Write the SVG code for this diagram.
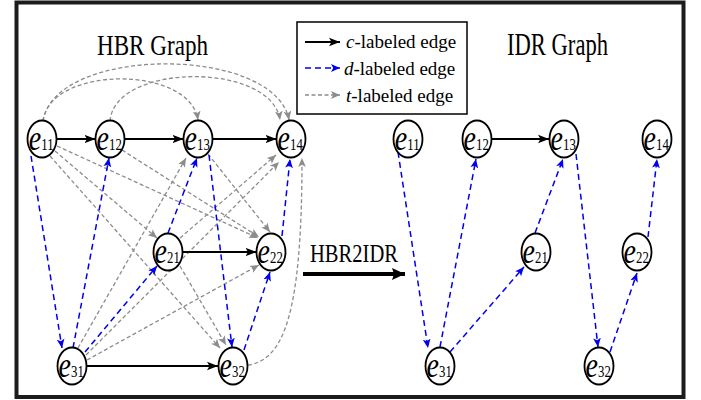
<svg xmlns="http://www.w3.org/2000/svg" width="701" height="400" viewBox="0 0 701 400">
  <defs>
    <marker id="ah-c" markerUnits="userSpaceOnUse" markerWidth="12" markerHeight="10" refX="11" refY="5" orient="auto">
      <path d="M0,0.8 L11,5 L0,9.2 L2.5,5 Z" fill="#000"/>
    </marker>
    <marker id="ah-d" markerUnits="userSpaceOnUse" markerWidth="10" markerHeight="9" refX="9" refY="4.5" orient="auto">
      <path d="M0,0.6 L9,4.5 L0,8.4 L2.2,4.5 Z" fill="#0000ee"/>
    </marker>
    <marker id="ah-t" markerUnits="userSpaceOnUse" markerWidth="10" markerHeight="9" refX="9" refY="4.5" orient="auto">
      <path d="M0,0.6 L9,4.5 L0,8.4 L2.2,4.5 Z" fill="#8c8c8c"/>
    </marker>
    <marker id="ah-big" markerUnits="userSpaceOnUse" markerWidth="14" markerHeight="14" refX="13" refY="7" orient="auto">
      <path d="M0,1 L13,7 L0,13 L2,7 Z" fill="#000"/>
    </marker>
  </defs>
  <style>
    .frame { fill: #fff; stroke: #1c1c1c; stroke-width: 4; }
    .node ellipse { fill: #fff; stroke: #000; stroke-width: 1.8; }
    .lbl { font-family: "Liberation Serif", "Times New Roman", serif; fill: #000; text-anchor: middle; }
    .lbl .e { font-style: italic; font-size: 35px; }
    .lbl .s { font-size: 16px; }
    .c { fill: none; stroke: #000; stroke-width: 1.8; marker-end: url(#ah-c); }
    .d { fill: none; stroke: #0000ee; stroke-width: 1.5; stroke-dasharray: 6 4; marker-end: url(#ah-d); }
    .t { fill: none; stroke: #8c8c8c; stroke-width: 1.3; stroke-dasharray: 4 2.5; marker-end: url(#ah-t); }
    .title { font-family: "Liberation Serif", "Times New Roman", serif; fill: #000; }
    .leg { font-family: "Liberation Serif", "Times New Roman", serif; font-size: 19px; fill: #000; }
    .leg .i { font-style: italic; }
  </style>

  <rect class="frame" x="16.5" y="2.5" width="667" height="394.5"/>

  <!-- titles -->
  <text class="title" x="97" y="55" font-size="30" textLength="111" lengthAdjust="spacingAndGlyphs">HBR Graph</text>
  <text class="title" x="507" y="55" font-size="31" textLength="101" lengthAdjust="spacingAndGlyphs">IDR Graph</text>

  <!-- legend -->
  <g id="legend">
    <rect x="297" y="22" width="170" height="92" fill="#fff" stroke="#000" stroke-width="1.5"/>
    <line class="c" x1="305" y1="42" x2="340" y2="42" stroke-dasharray="none"/>
    <line class="d" x1="305" y1="68" x2="340" y2="68"/>
    <line class="t" x1="305" y1="95" x2="340" y2="95"/>
    <text class="leg" x="346" y="48"><tspan class="i">c</tspan>-labeled edge</text>
    <text class="leg" x="344" y="75"><tspan class="i">d</tspan>-labeled edge</text>
    <text class="leg" x="346" y="102"><tspan class="i">t</tspan>-labeled edge</text>
  </g>

  <!-- transformation arrow -->
  <g id="hbr2idr">
    <text class="title" x="310" y="262" font-size="25" textLength="88" lengthAdjust="spacingAndGlyphs">HBR2IDR</text>
    <line x1="303" y1="274" x2="405" y2="274" stroke="#000" stroke-width="4" marker-end="url(#ah-big)"/>
  </g>

  <!-- connectors -->
  <g id="connectors">
    <!-- HBR: t-labeled edges -->
    <path class="t" d="M43,121 C55,45 275,45 289,120"/>
    <path class="t" d="M43,121 C50,65 190,65 198,120"/>
    <path class="t" d="M110,121 C115,62 272,62 280,120"/>
    <path class="t" d="M248,365 C285,360 302,310 302,158"/>
    <line class="t" x1="55" y1="151" x2="157" y2="238"/>
    <line class="t" x1="57" y1="146" x2="258" y2="238"/>
    <line class="t" x1="122" y1="150" x2="259" y2="237"/>
    <line class="t" x1="208" y1="154" x2="270" y2="232"/>
    <line class="t" x1="50" y1="156" x2="220" y2="348"/>
    <line class="t" x1="180" y1="266" x2="226" y2="345"/>
    <line class="t" x1="180" y1="238" x2="276" y2="155"/>
    <line class="t" x1="78" y1="348" x2="186" y2="158"/>
    <line class="t" x1="86" y1="355" x2="279" y2="162"/>
    <line class="t" x1="87" y1="360" x2="259" y2="265"/>
    <!-- HBR: d-labeled edges -->
    <line class="d" x1="31" y1="156" x2="62" y2="348"/>
    <line class="d" x1="73" y1="348" x2="109" y2="158"/>
    <line class="d" x1="85" y1="352" x2="157" y2="266"/>
    <line class="d" x1="168" y1="233" x2="197" y2="158"/>
    <line class="d" x1="209" y1="155" x2="232" y2="347"/>
    <line class="d" x1="244" y1="350" x2="270" y2="272"/>
    <line class="d" x1="282" y1="236" x2="290" y2="159"/>
    <!-- HBR: c-labeled edges -->
    <line class="c" x1="57" y1="139" x2="95.5" y2="139"/>
    <line class="c" x1="124.5" y1="139" x2="183.5" y2="139"/>
    <line class="c" x1="212.5" y1="139" x2="276.5" y2="139"/>
    <line class="c" x1="183" y1="252" x2="256.5" y2="252"/>
    <line class="c" x1="87" y1="366" x2="218" y2="366"/>
    <!-- IDR edges -->
    <line class="c" x1="492" y1="139" x2="549" y2="139"/>
    <line class="d" x1="398" y1="152" x2="428" y2="348"/>
    <line class="d" x1="440" y1="347" x2="476" y2="159"/>
    <line class="d" x1="450" y1="352" x2="524" y2="267"/>
    <line class="d" x1="535" y1="233" x2="563" y2="159"/>
    <line class="d" x1="576" y1="154" x2="598" y2="347"/>
    <line class="d" x1="610" y1="352" x2="637" y2="273"/>
    <line class="d" x1="648" y1="237" x2="657" y2="159"/>
  </g>

  <!-- HBR graph nodes -->
  <g id="hbr-e11" class="node" transform="translate(42,139)"><ellipse rx="14.5" ry="18.5"/><text class="lbl" transform="scale(0.8,1)" x="-1" y="11"><tspan class="e">e</tspan><tspan class="s">11</tspan></text></g>
  <g id="hbr-e12" class="node" transform="translate(110,139)"><ellipse rx="14.5" ry="18.5"/><text class="lbl" transform="scale(0.8,1)" x="-1" y="11"><tspan class="e">e</tspan><tspan class="s">12</tspan></text></g>
  <g id="hbr-e13" class="node" transform="translate(198,139)"><ellipse rx="14.5" ry="18.5"/><text class="lbl" transform="scale(0.8,1)" x="-1" y="11"><tspan class="e">e</tspan><tspan class="s">13</tspan></text></g>
  <g id="hbr-e14" class="node" transform="translate(291,139)"><ellipse rx="14.5" ry="18.5"/><text class="lbl" transform="scale(0.8,1)" x="-1" y="11"><tspan class="e">e</tspan><tspan class="s">14</tspan></text></g>
  <g id="hbr-e21" class="node" transform="translate(168,252)"><ellipse rx="14.5" ry="18.5"/><text class="lbl" transform="scale(0.8,1)" x="-1" y="11"><tspan class="e">e</tspan><tspan class="s">21</tspan></text></g>
  <g id="hbr-e22" class="node" transform="translate(271,252)"><ellipse rx="14.5" ry="18.5"/><text class="lbl" transform="scale(0.8,1)" x="-1" y="11"><tspan class="e">e</tspan><tspan class="s">22</tspan></text></g>
  <g id="hbr-e31" class="node" transform="translate(72,366)"><ellipse rx="14.5" ry="18.5"/><text class="lbl" transform="scale(0.8,1)" x="-1" y="11"><tspan class="e">e</tspan><tspan class="s">31</tspan></text></g>
  <g id="hbr-e32" class="node" transform="translate(233,366)"><ellipse rx="14.5" ry="18.5"/><text class="lbl" transform="scale(0.8,1)" x="-1" y="11"><tspan class="e">e</tspan><tspan class="s">32</tspan></text></g>

  <!-- IDR graph nodes -->
  <g id="idr-e11" class="node" transform="translate(408,139)"><ellipse rx="14.5" ry="18.5"/><text class="lbl" transform="scale(0.8,1)" x="-1" y="11"><tspan class="e">e</tspan><tspan class="s">11</tspan></text></g>
  <g id="idr-e12" class="node" transform="translate(477,139)"><ellipse rx="14.5" ry="18.5"/><text class="lbl" transform="scale(0.8,1)" x="-1" y="11"><tspan class="e">e</tspan><tspan class="s">12</tspan></text></g>
  <g id="idr-e13" class="node" transform="translate(564,139)"><ellipse rx="14.5" ry="18.5"/><text class="lbl" transform="scale(0.8,1)" x="-1" y="11"><tspan class="e">e</tspan><tspan class="s">13</tspan></text></g>
  <g id="idr-e14" class="node" transform="translate(657,139)"><ellipse rx="14.5" ry="18.5"/><text class="lbl" transform="scale(0.8,1)" x="-1" y="11"><tspan class="e">e</tspan><tspan class="s">14</tspan></text></g>
  <g id="idr-e21" class="node" transform="translate(536,252)"><ellipse rx="14.5" ry="18.5"/><text class="lbl" transform="scale(0.8,1)" x="-1" y="11"><tspan class="e">e</tspan><tspan class="s">21</tspan></text></g>
  <g id="idr-e22" class="node" transform="translate(637,252)"><ellipse rx="14.5" ry="18.5"/><text class="lbl" transform="scale(0.8,1)" x="-1" y="11"><tspan class="e">e</tspan><tspan class="s">22</tspan></text></g>
  <g id="idr-e31" class="node" transform="translate(440,366)"><ellipse rx="14.5" ry="18.5"/><text class="lbl" transform="scale(0.8,1)" x="-1" y="11"><tspan class="e">e</tspan><tspan class="s">31</tspan></text></g>
  <g id="idr-e32" class="node" transform="translate(599,366)"><ellipse rx="14.5" ry="18.5"/><text class="lbl" transform="scale(0.8,1)" x="-1" y="11"><tspan class="e">e</tspan><tspan class="s">32</tspan></text></g>
</svg>
